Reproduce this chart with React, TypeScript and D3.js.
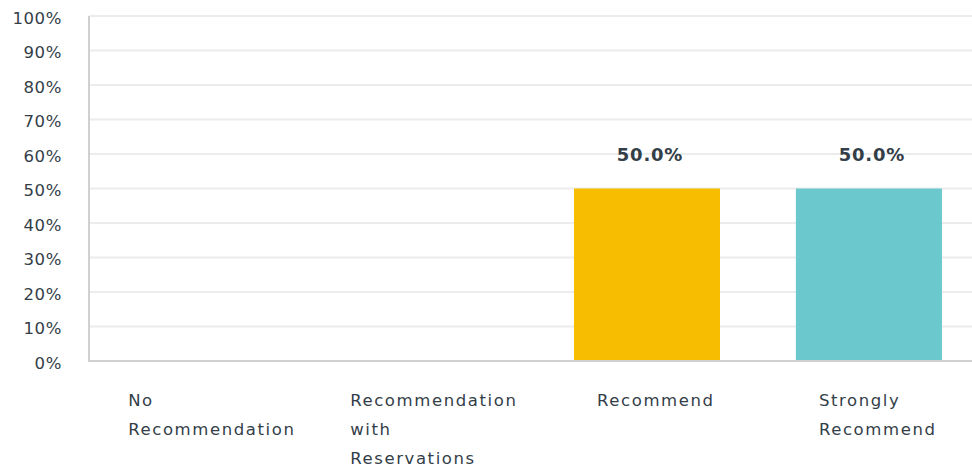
import React, { useEffect } from "react";
import * as d3 from "d3";

const categories: string[][] = [
  ["No", "Recommendation"],
  ["Recommendation", "with", "Reservations"],
  ["Recommend"],
  ["Strongly", "Recommend"],
];
const values: number[] = [0, 0, 50, 50];
const colors: string[] = ["#f26b5b", "#507cb6", "#f7bd00", "#6bc8cd"];
const yTicks: number[] = [0, 10, 20, 30, 40, 50, 60, 70, 80, 90, 100];

const W = 972;
const H = 473;
const left = 89;
const top = 16;
const bottom = 361;
const font = "'DejaVu Sans', sans-serif";
const catSize = 16.5;
const catLS = 1.6;

function measure(s: string, size: number, weight = "normal", ls = 0): number {
  const c = document.createElement("canvas").getContext("2d");
  if (!c) return s.length * size * 0.6;
  c.font = `${weight} ${size}px 'DejaVu Sans'`;
  return c.measureText(s).width + ls * (s.length - 1);
}

export default function App() {
  useEffect(() => {
    document.body.style.margin = "0";
  }, []);
  const x = d3
    .scaleBand<number>()
    .domain(d3.range(categories.length))
    .range([left, 983])
    .paddingInner(0.342)
    .paddingOuter(0.185);
  const y = d3.scaleLinear().domain([0, 100]).range([bottom, top]);
  const textColor = "#333e48";
  return (
    <svg width={W} height={H} style={{ display: "block" }}>
      {yTicks.map((t) => (
        <g key={t}>
          {t > 0 && (
            <line x1={left} x2={W} y1={y(t)} y2={y(t)} stroke="#ececec" strokeWidth={2} />
          )}
          <text
            x={62}
            y={y(t) + 2}
            dy="0.35em"
            textAnchor="end"
            fontFamily={font}
            fontSize={16.5}
            fill={textColor}
            letterSpacing={0.6}
          >
            {t}%
          </text>
        </g>
      ))}
      {values.map((v, i) => (
        <rect
          key={i}
          x={x(i)!}
          y={y(v)}
          width={x.bandwidth()}
          height={bottom - y(v)}
          fill={colors[i]}
        />
      ))}
      {values.map((v, i) =>
        v > 0 ? (
          <text
            key={"l" + i}
            x={x(i)! + x.bandwidth() / 2 + 3}
            y={y(v) - 34}
            dy="0.35em"
            textAnchor="middle"
            fontFamily={font}
            fontWeight={700}
            fontSize={18}
            fill={textColor}
            letterSpacing={0.8}
          >
            {v.toFixed(1)}%
          </text>
        ) : null
      )}
      <line x1={left} x2={left} y1={top} y2={bottom + 1} stroke="#d0d0d0" strokeWidth={2} />
      <line x1={left} x2={W} y1={bottom} y2={bottom} stroke="#d0d0d0" strokeWidth={2} />
      {categories.map((lines, i) => {
        const wMax = d3.max(lines, (l) => measure(l, catSize, "normal", catLS)) || 0;
        const cx = x(i)! + x.bandwidth() / 2 + 8;
        const x0 = cx - wMax / 2;
        return (
          <text key={"c" + i} fontFamily={font} fontSize={catSize} fill={textColor} letterSpacing={catLS}>
            {lines.map((ln, j) => (
              <tspan key={j} x={x0} y={406 + j * 29}>
                {ln}
              </tspan>
            ))}
          </text>
        );
      })}
    </svg>
  );
}
